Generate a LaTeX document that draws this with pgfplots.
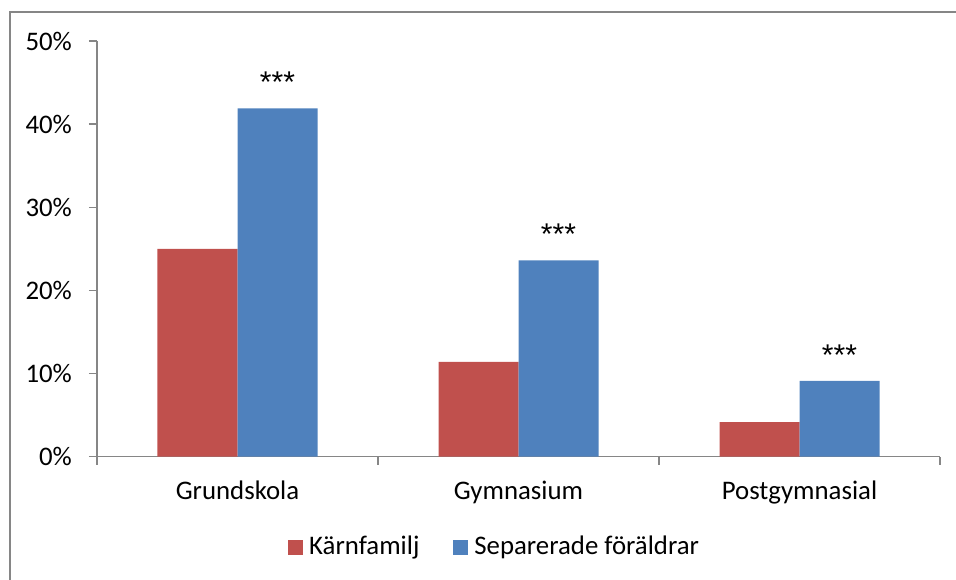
\documentclass[border=0pt]{standalone}
\usepackage{fontspec}
\setmainfont{Carlito}
\newfontfamily\starfont{Liberation Sans}
\usepackage{pgfplots}
\pgfplotsset{compat=1.18}
\definecolor{barred}{HTML}{C0504D}
\definecolor{barblue}{HTML}{4F81BD}
\definecolor{axgray}{HTML}{868686}
\begin{document}
\fontsize{26.8bp}{32bp}\selectfont
\begin{tikzpicture}
\useasboundingbox (-97bp,-123.5bp) rectangle (859bp,456.5bp);
\draw[axgray, line width=1.5bp] (-87bp,-130bp) -- (-87bp,444.5bp) -- (870bp,444.5bp);
\begin{axis}[
  at={(0,0)}, anchor=origin,
  scale only axis,
  width=843bp, height=415.5bp,
  xmin=0, xmax=3, ymin=0, ymax=50,
  ybar=0pt, bar width=80bp,
  axis x line*=bottom, axis y line*=left,
  axis line style={axgray, line width=1.3bp},
  tick align=outside,
  major tick length=8bp, minor tick length=8bp,
  tick style={axgray, line width=1.3bp},
  ytick={0,10,20,30,40,50},
  yticklabels={0\%,10\%,20\%,30\%,40\%,50\%},
  yticklabel style={xshift=-8bp},
  xtick={0.5,1.5,2.5},
  xticklabels={Grundskola,Gymnasium,Postgymnasial},
  xticklabel style={yshift=-7bp},
  major x tick style={draw=none},
  minor xtick={0,1,2,3},
  /pgf/number format/assume math mode=true,
  ticklabel style={font=\fontsize{26.8bp}{32bp}\selectfont, text=black},
  legend style={draw=none, fill=none, at={(0.2266,-0.2195)}, anchor=west,
    legend columns=2, inner sep=0pt,
    font=\fontsize{26.8bp}{32bp}\selectfont,
    nodes={inner xsep=6bp},
    /tikz/every even column/.append style={column sep=28bp}},
  legend image code/.code={\fill[#1] (0bp,-7.5bp) rectangle (15bp,7.5bp);},
]
\addplot[fill=barred, draw=none] coordinates {(0.5,25.0) (1.5,11.4) (2.5,4.15)};
\addlegendentry{Kärnfamilj}
\addplot[fill=barblue, draw=none,
  nodes near coords={***},
  every node near coord/.append style={font=\starfont\fontsize{30bp}{34bp}\selectfont, text=black, anchor=center, yshift=26bp}]
  coordinates {(0.5,41.9) (1.5,23.6) (2.5,9.1)};
\addlegendentry{Separerade föräldrar}
\end{axis}
\end{tikzpicture}
\end{document}
